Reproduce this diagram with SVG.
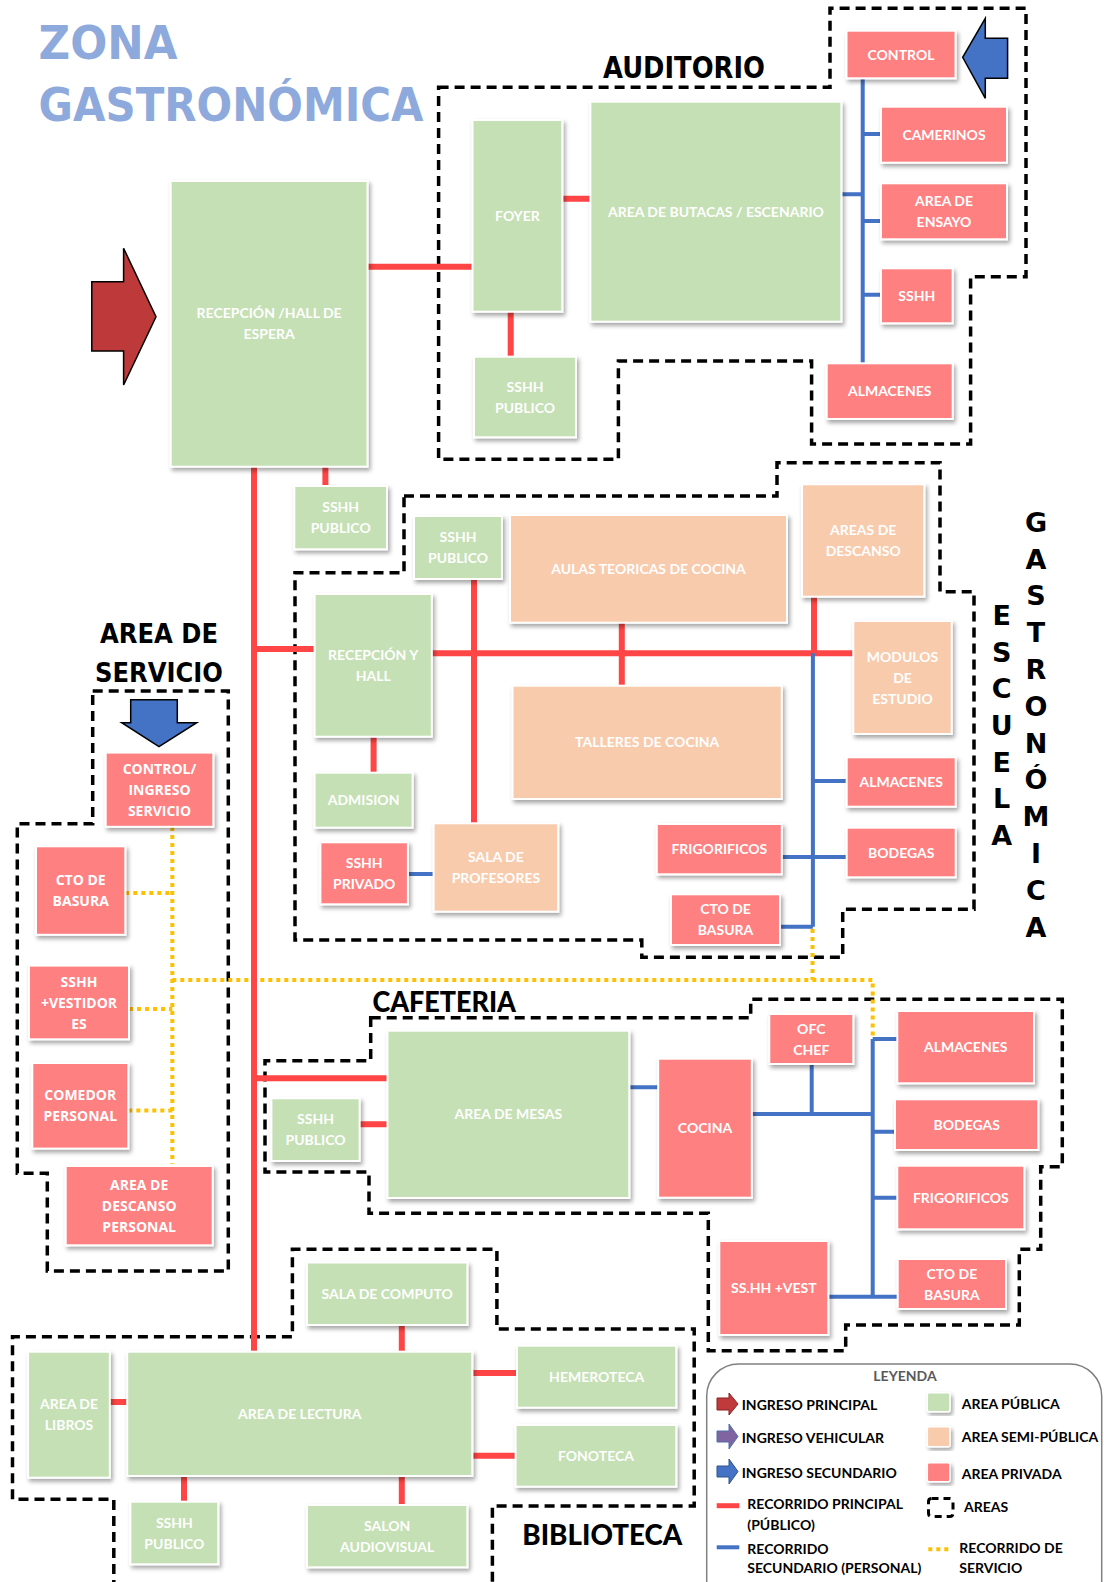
<svg xmlns="http://www.w3.org/2000/svg" width="1104" height="1582" viewBox="0 0 1104 1582">
<defs>
<filter id="sh" x="-10%" y="-10%" width="130%" height="130%"><feDropShadow dx="2" dy="3" stdDeviation="2" flood-color="#000" flood-opacity="0.35"/></filter>
<style>
.n{stroke:#fff;stroke-width:2;filter:url(#sh)}
.g{fill:#C5E0B4}.o{fill:#F8CBAD}.p{fill:#FF8080}
.t{font-family:Lato,"Open Sans",sans-serif;font-weight:700;font-size:14px;fill:#fff;text-anchor:middle}
.ts{font-family:"Open Sans",Lato,sans-serif;font-weight:700;font-size:14px;fill:#fff;text-anchor:middle}
.h{font-family:"DejaVu Sans",sans-serif;font-weight:700;fill:#000}
.hc{font-family:Lato,sans-serif;font-weight:900;fill:#000}
.vl{font-family:"DejaVu Sans",sans-serif;font-weight:700;font-size:27px;fill:#000;text-anchor:middle}
.ar{fill:none;stroke:#000;stroke-width:3.5;stroke-dasharray:10 6}
.r{stroke:#FF4545;stroke-width:6;fill:none}
.b{stroke:#4472C4;stroke-width:4;fill:none}
.y{stroke:#FFC000;stroke-width:4;fill:none;stroke-dasharray:4 4}
.lg{font-family:Lato,sans-serif;font-weight:700;font-size:14px;fill:#000}
</style>
</defs>
<rect width="1104" height="1582" fill="#fff"/>

<g id="title">
<text x="38.6" y="59.3" font-family="DejaVu Sans,sans-serif" font-weight="700" font-size="47" fill="#8EA9DB" textLength="139" lengthAdjust="spacingAndGlyphs">ZONA</text>
<text x="38.6" y="120.7" font-family="DejaVu Sans,sans-serif" font-weight="700" font-size="47" fill="#8EA9DB" textLength="385" lengthAdjust="spacingAndGlyphs">GASTRONÓMICA</text>
</g>

<g id="areas">
<path class="ar" d="M438.6,87.3 L830,87.3 L830,8.3 L1026,8.3 L1026,276.7 L970.6,276.7 L970.6,444 L811.6,444 L811.6,361 L618.4,361 L618.4,459.3 L438.6,459.3 Z"/>
<path class="ar" d="M404,496 L777,496 L777,462.7 L940,462.7 L940,591.7 L974,591.7 L974,909.3 L842.7,909.3 L842.7,957.3 L641.8,957.3 L641.8,940 L295,940 L295,572.7 L404,572.7 Z"/>
<path class="ar" d="M92.7,691 L228.3,691 L228.3,1271 L47.3,1271 L47.3,1173.3 L17.3,1173.3 L17.3,823.8 L92.7,823.8 Z"/>
<path class="ar" d="M370.7,1017.7 L750.7,1017.7 L750.7,999.3 L1062.3,999.3 L1062.3,1166.7 L1040.7,1166.7 L1040.7,1249.3 L1019.3,1249.3 L1019.3,1325 L845.7,1325 L845.7,1350.7 L708.3,1350.7 L708.3,1213.3 L369,1213.3 L369,1172 L265,1172 L265,1060.7 L370.7,1060.7 Z"/>
<path class="ar" d="M113.8,1590 L113.8,1499.3 L12.5,1499.3 L12.5,1336.7 L292.4,1336.7 L292.4,1249.3 L496.9,1249.3 L496.9,1329 L694.2,1329 L694.2,1506 L492.4,1506 L492.4,1590"/>
</g>

<g id="labels">
<text class="h" x="603" y="78.3" font-size="30" textLength="162" lengthAdjust="spacingAndGlyphs">AUDITORIO</text>
<text class="h" x="100" y="643.4" font-size="27" textLength="118" lengthAdjust="spacingAndGlyphs">AREA DE</text>
<text class="h" x="95" y="682.4" font-size="27" textLength="128" lengthAdjust="spacingAndGlyphs">SERVICIO</text>
<text class="hc" x="372.5" y="1012.3" font-size="28" textLength="143.5" lengthAdjust="spacingAndGlyphs">CAFETERIA</text>
<text class="hc" x="522.3" y="1545" font-size="28" textLength="160" lengthAdjust="spacingAndGlyphs">BIBLIOTECA</text>
<text class="vl" x="1001.7" y="625">E</text>
<text class="vl" x="1001.7" y="661.7">S</text>
<text class="vl" x="1001.7" y="698.3">C</text>
<text class="vl" x="1001.7" y="735">U</text>
<text class="vl" x="1001.7" y="771.7">E</text>
<text class="vl" x="1001.7" y="808.3">L</text>
<text class="vl" x="1001.7" y="845">A</text>
<text class="vl" x="1036" y="531.7">G</text>
<text class="vl" x="1036" y="568.5">A</text>
<text class="vl" x="1036" y="605.3">S</text>
<text class="vl" x="1036" y="642.1">T</text>
<text class="vl" x="1036" y="678.9">R</text>
<text class="vl" x="1036" y="715.7">O</text>
<text class="vl" x="1036" y="752.5">N</text>
<text class="vl" x="1036" y="789.3">Ó</text>
<text class="vl" x="1036" y="826.1">M</text>
<text class="vl" x="1036" y="862.9">I</text>
<text class="vl" x="1036" y="899.7">C</text>
<text class="vl" x="1036" y="936.5">A</text>
</g>

<g id="connectors">
<path class="y" d="M172.3,827 V1163.7 M125.3,893 H172.3 M129,1009 H172.3 M128.3,1110.4 H172.3 M172.3,980 H872.7 V1039 M812.5,929 V980"/>
<path class="r" d="M367.5,266.7 H472.5 M562.3,198.7 H590.4 M510.7,311.7 V356.7 M254,466.7 V1351.7 M325.4,466.7 V486 M254,649 H314.6 M431.8,653.3 H853.3 M474,579 V823.3 M621.8,622.7 V685.7 M814,596.7 V653.3 M373.6,736.7 V772.7 M254,1078.3 H387.5 M359.6,1124.3 H387.5 M401.8,1325 V1351.7 M109.8,1402 H127.2 M472.3,1373 H517 M472.3,1455.7 H515.6 M184,1476 V1501.7 M401.8,1476 V1505"/>
<path class="b" d="M862.7,78.3 V363.3 M841.4,194.3 H862.7 M862.7,134 H881 M862.7,221 H881 M862.7,294.7 H881 M812.9,653.3 V926.7 M812.9,781 H846.7 M781.8,857 H846.7 M780,926.7 H812.9 M407.9,874 H433.6 M629.3,1087.3 H658.2 M751.8,1114 H872.7 M811.7,1064 V1114 M872.7,1039 V1296.7 M872.7,1039 H897.3 M872.7,1131.7 H895 M872.7,1197.7 H897.3 M828.3,1296.7 H897.7"/>
</g>

<g id="arrows">
<polygon points="91.8,281.7 123.6,281.7 123.6,248.3 156,316.7 123.6,385 123.6,351 91.8,351" fill="#BE3A3A" stroke="#000" stroke-width="1.5"/>
<polygon points="1007.6,38.3 985.3,38.3 985.3,18.3 962.7,57.3 985.3,98.3 985.3,78.3 1007.6,78.3" fill="#4472C4" stroke="#000" stroke-width="1.5"/>
<polygon points="130.7,699.7 177.3,699.7 177.3,722.7 196.7,722.7 159,746.6 121.7,722.7 130.7,722.7" fill="#4472C4" stroke="#000" stroke-width="1.5"/>
</g>

<g id="recepcion"><rect class="n g" x="170.7" y="181" width="196.8" height="285.7"/><text class="t"><tspan x="269.1" y="318.3">RECEPCIÓN /HALL DE</tspan><tspan x="269.1" y="339.3">ESPERA</tspan></text></g>
<g id="foyer"><rect class="n g" x="472.5" y="120" width="89.8" height="191.7"/><text class="t" x="517.4" y="220.8">FOYER</text></g>
<g id="butacas"><rect class="n g" x="590.4" y="101.7" width="251" height="220"/><text class="t" x="715.9" y="216.7">AREA DE BUTACAS / ESCENARIO</text></g>
<g id="sshh-auditorio"><rect class="n g" x="474" y="356.7" width="102" height="80.6"/><text class="t"><tspan x="525" y="391.5">SSHH</tspan><tspan x="525" y="412.5">PUBLICO</tspan></text></g>
<g id="control"><rect class="n p" x="846.5" y="30.7" width="109" height="47.6"/><text class="t" x="901" y="59.5">CONTROL</text></g>
<g id="camerinos"><rect class="n p" x="881" y="106.7" width="126" height="56"/><text class="t" x="944" y="139.7">CAMERINOS</text></g>
<g id="ensayo"><rect class="n p" x="881" y="183.3" width="126" height="56"/><text class="t"><tspan x="944" y="205.8">AREA DE</tspan><tspan x="944" y="226.8">ENSAYO</tspan></text></g>
<g id="sshh-auditorio-priv"><rect class="n p" x="881" y="268.3" width="71.6" height="55"/><text class="t" x="916.8" y="300.8">SSHH</text></g>
<g id="almacenes-auditorio"><rect class="n p" x="826.7" y="363.3" width="126" height="55.7"/><text class="t" x="889.7" y="396.2">ALMACENES</text></g>

<g id="sshh-recepcion"><rect class="n g" x="294.3" y="486" width="92.7" height="63.3"/><text class="t"><tspan x="340.7" y="512.2">SSHH</tspan><tspan x="340.7" y="533.2">PUBLICO</tspan></text></g>
<g id="sshh-escuela"><rect class="n g" x="414" y="516" width="88" height="63"/><text class="t"><tspan x="458" y="542">SSHH</tspan><tspan x="458" y="563">PUBLICO</tspan></text></g>
<g id="aulas"><rect class="n o" x="510" y="515" width="277" height="107.7"/><text class="t" x="648.5" y="573.8">AULAS TEORICAS DE COCINA</text></g>
<g id="descanso-escuela"><rect class="n o" x="802" y="484.3" width="122.3" height="112.4"/><text class="t"><tspan x="863.2" y="535">AREAS DE</tspan><tspan x="863.2" y="556">DESCANSO</tspan></text></g>
<g id="recepcion-hall"><rect class="n g" x="314.6" y="594" width="117.2" height="142.7"/><text class="t"><tspan x="373.2" y="659.9">RECEPCIÓN Y</tspan><tspan x="373.2" y="680.9">HALL</tspan></text></g>
<g id="talleres"><rect class="n o" x="512.5" y="685.7" width="269.3" height="113.3"/><text class="t" x="647.2" y="747.3">TALLERES DE COCINA</text></g>
<g id="modulos"><rect class="n o" x="853.3" y="621" width="98.4" height="113"/><text class="t"><tspan x="902.5" y="661.5">MODULOS</tspan><tspan x="902.5" y="682.5">DE</tspan><tspan x="902.5" y="703.5">ESTUDIO</tspan></text></g>
<g id="admision"><rect class="n g" x="314.6" y="772.7" width="98" height="55"/><text class="t" x="363.6" y="805.2">ADMISION</text></g>
<g id="sshh-privado"><rect class="n p" x="320.4" y="842.3" width="87.5" height="62"/><text class="t"><tspan x="364.2" y="867.8">SSHH</tspan><tspan x="364.2" y="888.8">PRIVADO</tspan></text></g>
<g id="sala-profesores"><rect class="n o" x="433.6" y="823.3" width="124.6" height="88.4"/><text class="t"><tspan x="495.9" y="862">SALA DE</tspan><tspan x="495.9" y="883">PROFESORES</tspan></text></g>
<g id="frigorificos-escuela"><rect class="n p" x="656.8" y="824" width="125" height="50.3"/><text class="t" x="719.3" y="854.2">FRIGORIFICOS</text></g>
<g id="almacenes-escuela"><rect class="n p" x="846.7" y="757.3" width="109" height="49.4"/><text class="t" x="901.2" y="787">ALMACENES</text></g>
<g id="bodegas-escuela"><rect class="n p" x="846.7" y="827.7" width="109" height="49.6"/><text class="t" x="901.2" y="857.5">BODEGAS</text></g>
<g id="basura-escuela"><rect class="n p" x="671" y="894.3" width="109" height="50.7"/><text class="t"><tspan x="725.5" y="914.2">CTO DE</tspan><tspan x="725.5" y="935.2">BASURA</tspan></text></g>

<g id="control-servicio"><rect class="n p" x="105.7" y="752.6" width="107.6" height="74.2"/><text class="ts"><tspan x="159.5" y="773.7">CONTROL/</tspan><tspan x="159.5" y="794.7">INGRESO</tspan><tspan x="159.5" y="815.7">SERVICIO</tspan></text></g>
<g id="basura-servicio"><rect class="n p" x="36" y="846.3" width="89.3" height="88.5"/><text class="ts"><tspan x="80.7" y="885.1">CTO DE</tspan><tspan x="80.7" y="906.1">BASURA</tspan></text></g>
<g id="vestidores"><rect class="n p" x="29" y="965.6" width="100" height="73.7"/><text class="ts"><tspan x="79" y="986.5">SSHH</tspan><tspan x="79" y="1007.5">+VESTIDOR</tspan><tspan x="79" y="1028.5">ES</tspan></text></g>
<g id="comedor"><rect class="n p" x="32.3" y="1063" width="96" height="85.6"/><text class="ts"><tspan x="80.3" y="1100.3">COMEDOR</tspan><tspan x="80.3" y="1121.3">PERSONAL</tspan></text></g>
<g id="descanso-personal"><rect class="n p" x="65.7" y="1166" width="147" height="79.3"/><text class="ts"><tspan x="139.2" y="1189.7">AREA DE</tspan><tspan x="139.2" y="1210.7">DESCANSO</tspan><tspan x="139.2" y="1231.7">PERSONAL</tspan></text></g>

<g id="mesas"><rect class="n g" x="387.5" y="1030.7" width="241.8" height="167.3"/><text class="t" x="508.4" y="1119.3">AREA DE MESAS</text></g>
<g id="sshh-cafeteria"><rect class="n g" x="271.4" y="1098.3" width="88.2" height="62.7"/><text class="t"><tspan x="315.5" y="1124.2">SSHH</tspan><tspan x="315.5" y="1145.2">PUBLICO</tspan></text></g>
<g id="cocina"><rect class="n p" x="658.2" y="1058.7" width="93.6" height="139"/><text class="t" x="705" y="1133.2">COCINA</text></g>
<g id="ofc-chef"><rect class="n p" x="769.3" y="1014" width="84" height="50"/><text class="t"><tspan x="811.3" y="1033.5">OFC</tspan><tspan x="811.3" y="1054.5">CHEF</tspan></text></g>
<g id="almacenes-cafeteria"><rect class="n p" x="897.3" y="1011" width="136.7" height="72.3"/><text class="t" x="965.7" y="1052.2">ALMACENES</text></g>
<g id="bodegas-cafeteria"><rect class="n p" x="895" y="1099.3" width="143.3" height="50.7"/><text class="t" x="966.7" y="1129.7">BODEGAS</text></g>
<g id="frigorificos-cafeteria"><rect class="n p" x="897.3" y="1165.7" width="127" height="63.6"/><text class="t" x="960.8" y="1202.5">FRIGORIFICOS</text></g>
<g id="basura-cafeteria"><rect class="n p" x="897.7" y="1259" width="108.3" height="50"/><text class="t"><tspan x="951.9" y="1278.5">CTO DE</tspan><tspan x="951.9" y="1299.5">BASURA</tspan></text></g>
<g id="sshh-vest"><rect class="n p" x="719.3" y="1241" width="109" height="94"/><text class="t" x="773.8" y="1293">SS.HH +VEST</text></g>

<g id="computo"><rect class="n g" x="307" y="1262.5" width="160.4" height="62.5"/><text class="t" x="387.2" y="1298.8">SALA DE COMPUTO</text></g>
<g id="lectura"><rect class="n g" x="127.2" y="1351.7" width="345.1" height="124.3"/><text class="t" x="299.8" y="1418.9">AREA DE LECTURA</text></g>
<g id="libros"><rect class="n g" x="28.1" y="1351.7" width="81.7" height="126"/><text class="t"><tspan x="69" y="1409.2">AREA DE</tspan><tspan x="69" y="1430.2">LIBROS</tspan></text></g>
<g id="hemeroteca"><rect class="n g" x="517" y="1345.7" width="159.3" height="62"/><text class="t" x="596.7" y="1381.7">HEMEROTECA</text></g>
<g id="fonoteca"><rect class="n g" x="515.6" y="1425" width="160.7" height="61.7"/><text class="t" x="596" y="1460.9">FONOTECA</text></g>
<g id="sshh-biblioteca"><rect class="n g" x="130.4" y="1501.7" width="87.9" height="62.6"/><text class="t"><tspan x="174.4" y="1527.5">SSHH</tspan><tspan x="174.4" y="1548.5">PUBLICO</tspan></text></g>
<g id="audiovisual"><rect class="n g" x="307" y="1505" width="160.4" height="62.3"/><text class="t"><tspan x="387.2" y="1530.7">SALON</tspan><tspan x="387.2" y="1551.7">AUDIOVISUAL</tspan></text></g>

<g id="legend">
<rect x="706.7" y="1364" width="395" height="260" rx="32" fill="#fff" stroke="#808080" stroke-width="1.5"/>
<text x="905" y="1380.7" font-family="Lato,sans-serif" font-weight="700" font-size="14" fill="#595959" text-anchor="middle">LEYENDA</text>
<polygon points="717,1398 729,1398 729,1393 738,1404 729,1415 729,1410 717,1410" fill="#C0393B" stroke="#8B2020" stroke-width="1"/>
<text class="lg" x="741.7" y="1410">INGRESO PRINCIPAL</text>
<polygon points="717,1431 729,1431 729,1424 738,1436.5 729,1449 729,1442 717,1442" fill="#8064A2" stroke="#4F6FAE" stroke-width="1"/>
<text class="lg" x="741.7" y="1442.7">INGRESO VEHICULAR</text>
<polygon points="717,1466 729,1466 729,1459 738,1471.5 729,1484 729,1477 717,1477" fill="#4472C4" stroke="#2F528F" stroke-width="1"/>
<text class="lg" x="741.7" y="1477.7">INGRESO SECUNDARIO</text>
<path d="M716.7,1505.7 H739.3" stroke="#FF4545" stroke-width="5"/>
<text class="lg" x="747.3" y="1509.3">RECORRIDO PRINCIPAL</text>
<text class="lg" x="747.3" y="1530">(PÚBLICO)</text>
<path d="M716.7,1547.3 H739.3" stroke="#4472C4" stroke-width="4"/>
<text class="lg" x="747.3" y="1554.3">RECORRIDO</text>
<text class="lg" x="747.3" y="1573.3">SECUNDARIO (PERSONAL)</text>
<rect x="927.3" y="1392.7" width="22.7" height="19" rx="2" class="g" stroke="#fff" stroke-width="1.5" filter="url(#sh)"/>
<text class="lg" x="961.7" y="1409.3">AREA PÚBLICA</text>
<rect x="927.3" y="1426.7" width="22.7" height="20" rx="2" class="o" stroke="#fff" stroke-width="1.5" filter="url(#sh)"/>
<text class="lg" x="961.7" y="1441.7">AREA SEMI-PÚBLICA</text>
<rect x="927.3" y="1462.7" width="22.7" height="19" rx="2" class="p" stroke="#fff" stroke-width="1.5" filter="url(#sh)"/>
<text class="lg" x="961.7" y="1479.3">AREA PRIVADA</text>
<rect x="928.5" y="1498.5" width="24.5" height="18" rx="3" fill="none" stroke="#000" stroke-width="3" stroke-dasharray="7 5"/>
<text class="lg" x="964" y="1511.7">AREAS</text>
<path d="M928.3,1549.3 H950" stroke="#FFC000" stroke-width="4" stroke-dasharray="4 4"/>
<text class="lg" x="959.3" y="1553.3">RECORRIDO DE</text>
<text class="lg" x="959.3" y="1573.3">SERVICIO</text>
</g>
</svg>
